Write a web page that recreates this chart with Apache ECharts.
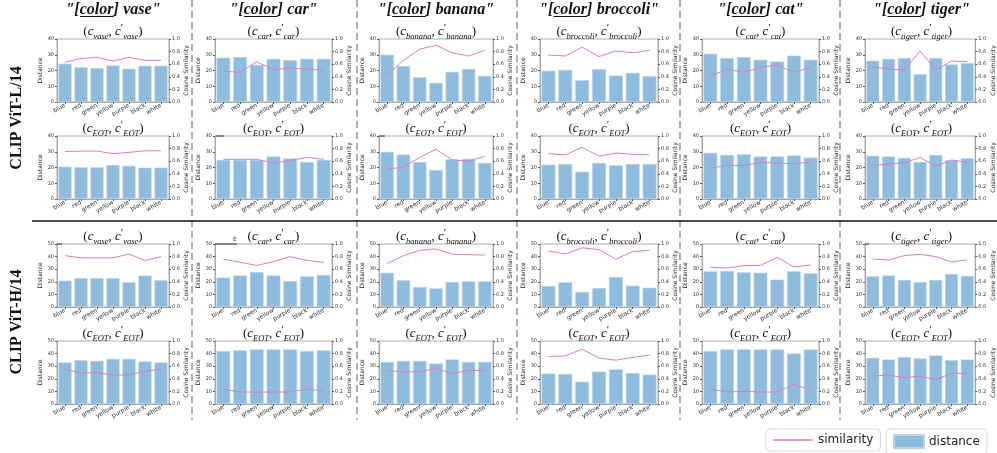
<!DOCTYPE html>
<html>
<head>
<meta charset="utf-8">
<script src="https://cdn.jsdelivr.net/npm/echarts@6/dist/echarts.min.js"></script>
<style>
  html, body { margin: 0; padding: 0; background: #fff; }
  #chart { width: 997px; height: 453px; }
</style>
</head>
<body>
<div id="chart"></div>
<script>
// categories
const colorNames = ['blue', 'red', 'green', 'yellow', 'purple', 'black', 'white']
const objects = ['vase', 'car', 'banana', 'broccoli', 'cat', 'tiger']
const modelNames = ['CLIP ViT-L/14', 'CLIP ViT-H/14']

// CLIP ViT-L/14, object token (c_obj, c'_obj) -- one row per object
const distL_obj = [
  [24.3, 22.1, 21.5, 23.2, 21.1, 23.0, 23.0],
  [28.1, 28.5, 23.6, 27.4, 26.6, 27.4, 27.4],
  [30.0, 22.8, 15.7, 12.1, 19.1, 20.9, 16.6],
  [19.8, 20.4, 13.8, 20.9, 16.8, 18.5, 16.4],
  [30.6, 27.9, 28.5, 26.8, 25.7, 29.4, 26.8],
  [26.2, 27.4, 27.9, 17.7, 27.9, 23.8, 24.7]
]
const simL_obj = [
  [0.63, 0.69, 0.71, 0.65, 0.71, 0.66, 0.66],
  [0.49, 0.47, 0.64, 0.51, 0.54, 0.52, 0.505],
  [0.43, 0.66, 0.84, 0.90, 0.78, 0.73, 0.82],
  [0.745, 0.73, 0.87, 0.72, 0.81, 0.78, 0.82],
  [0.41, 0.52, 0.47, 0.55, 0.585, 0.47, 0.55],
  [0.56, 0.52, 0.51, 0.81, 0.51, 0.65, 0.64]
]
// CLIP ViT-L/14, EOT token
const distL_eot = [
  [20.5, 20.1, 20.1, 21.6, 21.0, 19.9, 19.9],
  [24.8, 24.8, 24.8, 27.0, 25.7, 23.5, 24.8],
  [29.9, 28.2, 23.5, 18.4, 25.2, 25.5, 22.9],
  [21.8, 22.2, 17.3, 22.9, 21.4, 22.2, 22.2],
  [29.3, 28.0, 28.4, 27.0, 27.0, 27.6, 26.3],
  [27.4, 27.0, 26.1, 23.5, 28.0, 24.6, 25.9]
]
const simL_eot = [
  [0.754, 0.76, 0.76, 0.72, 0.74, 0.765, 0.765],
  [0.63, 0.63, 0.63, 0.57, 0.61, 0.66, 0.63],
  [0.47, 0.51, 0.66, 0.79, 0.62, 0.60, 0.68],
  [0.72, 0.70, 0.82, 0.68, 0.73, 0.71, 0.70],
  [0.49, 0.535, 0.53, 0.58, 0.57, 0.56, 0.59],
  [0.535, 0.556, 0.57, 0.66, 0.52, 0.62, 0.58]
]
// CLIP ViT-H/14, object token
const distH_obj = [
  [20.9, 22.8, 22.8, 22.8, 19.6, 24.9, 21.2],
  [23.3, 25.1, 27.8, 25.1, 20.6, 24.3, 25.4],
  [27.2, 21.2, 15.9, 14.8, 19.8, 20.4, 20.4],
  [16.7, 19.6, 11.9, 15.1, 23.8, 16.9, 15.3],
  [28.3, 28.6, 27.5, 27.2, 21.7, 28.3, 26.7],
  [24.3, 25.1, 21.4, 19.8, 21.4, 26.2, 24.6]
]
const simH_obj = [
  [0.815, 0.78, 0.78, 0.78, 0.84, 0.74, 0.80],
  [0.76, 0.71, 0.66, 0.72, 0.80, 0.74, 0.71],
  [0.69, 0.815, 0.90, 0.92, 0.84, 0.83, 0.825],
  [0.89, 0.84, 0.94, 0.91, 0.76, 0.88, 0.90],
  [0.63, 0.62, 0.656, 0.66, 0.79, 0.635, 0.667],
  [0.76, 0.746, 0.815, 0.836, 0.80, 0.714, 0.75]
]
// CLIP ViT-H/14, EOT token
const distH_eot = [
  [32.9, 34.8, 34.2, 35.8, 35.8, 33.7, 32.9],
  [42.0, 42.5, 43.3, 43.3, 43.3, 42.0, 42.5],
  [33.4, 34.2, 34.2, 32.1, 35.3, 33.4, 33.4],
  [24.1, 23.8, 17.6, 25.7, 27.5, 24.6, 23.3],
  [42.0, 43.3, 43.3, 43.3, 43.3, 40.1, 43.3],
  [36.6, 35.3, 37.2, 36.1, 38.5, 34.8, 35.3]
]
const simH_eot = [
  [0.556, 0.49, 0.50, 0.46, 0.46, 0.52, 0.556],
  [0.235, 0.19, 0.19, 0.19, 0.19, 0.235, 0.21],
  [0.53, 0.51, 0.51, 0.57, 0.48, 0.535, 0.53],
  [0.754, 0.765, 0.87, 0.73, 0.695, 0.74, 0.775],
  [0.235, 0.19, 0.20, 0.19, 0.19, 0.31, 0.22],
  [0.444, 0.46, 0.417, 0.444, 0.385, 0.49, 0.48]
]

// panel rows: model, token, distance axis max
const panelRows = [
  { dist: distL_obj, sim: simL_obj, max: 40, eot: false },
  { dist: distL_eot, sim: simL_eot, max: 40, eot: true },
  { dist: distH_obj, sim: simH_obj, max: 50, eot: false },
  { dist: distH_eot, sim: simH_eot, max: 50, eot: true }
]

// layout (px)
const colLeft = [57, 215, 379, 540, 702, 865]
const colWidth = [112, 117, 114, 118, 117, 113]
const rowTop = [39, 136, 244, 341]
const plotH = 63
const titleY = [32, 129, 237, 334]
const sepX = [192, 357, 517, 680, 840]

const barColor = '#8fbbdc'
const lineColor = '#da7ec1'
const spine = '#9a9a9a'
const serif = 'Liberation Serif'

const grids = []
const xAxes = []
const yAxes = []
const series = []
const titles = []
const graphics = []

const titleRich = {
  i: { fontFamily: serif, fontStyle: 'italic', fontSize: 13, lineHeight: 18, color: '#111' },
  s: { fontFamily: serif, fontStyle: 'italic', fontSize: 8.5, lineHeight: 18, verticalAlign: 'bottom', color: '#111' },
  p: { fontFamily: serif, fontSize: 11, lineHeight: 18, verticalAlign: 'top', color: '#111' },
  n: { fontFamily: serif, fontSize: 13, lineHeight: 18, color: '#111' }
}

panelRows.forEach((row, r) => {
  objects.forEach((obj, c) => {
    const k = grids.length
    grids.push({
      left: colLeft[c], top: rowTop[r], width: colWidth[c], height: plotH,
      show: true, borderColor: spine, borderWidth: 0.8, backgroundColor: '#fff'
    })
    xAxes.push({
      type: 'category', gridIndex: k, data: colorNames,
      axisLine: { lineStyle: { color: spine, width: 0.8 } },
      axisTick: { show: true, alignWithLabel: true, length: 2, lineStyle: { color: '#555' } },
      axisLabel: { interval: 0, rotate: 30, fontSize: 6, color: '#333', margin: 3, fontFamily: 'DejaVu Sans' }
    })
    yAxes.push({
      type: 'value', gridIndex: k, min: 0, max: row.max, interval: 10,
      splitLine: { show: false },
      axisLine: { show: true, lineStyle: { color: spine, width: 0.8 } },
      axisTick: { show: true, length: 2, lineStyle: { color: '#555' } },
      axisLabel: { fontSize: 5, color: '#333', margin: 3, fontFamily: 'DejaVu Sans' },
      name: 'Distance', nameLocation: 'middle', nameRotate: 90, nameGap: 13,
      nameTextStyle: { fontSize: 6, color: '#222', fontFamily: 'DejaVu Sans' }
    })
    yAxes.push({
      type: 'value', gridIndex: k, position: 'right', min: 0, max: 1, interval: 0.2,
      splitLine: { show: false },
      axisLine: { show: true, lineStyle: { color: spine, width: 0.8 } },
      axisTick: { show: true, length: 2, lineStyle: { color: '#555' } },
      axisLabel: { fontSize: 5, color: '#333', margin: 3, fontFamily: 'DejaVu Sans', formatter: v => v.toFixed(1) },
      name: 'Cosine Similarity', nameLocation: 'middle', nameRotate: 90, nameGap: 13,
      nameTextStyle: { fontSize: 6, color: '#222', fontFamily: 'DejaVu Sans' }
    })
    series.push({
      name: 'distance', type: 'bar', xAxisIndex: k, yAxisIndex: 2 * k,
      data: row.dist[c], barCategoryGap: '18%',
      itemStyle: { color: barColor, borderColor: '#b9d4ea', borderWidth: 0.6 }
    })
    series.push({
      name: 'similarity', type: 'line', xAxisIndex: k, yAxisIndex: 2 * k + 1,
      data: row.sim[c], symbol: 'none', z: 5,
      lineStyle: { color: lineColor, width: 1 }, itemStyle: { color: lineColor }
    })
    const sub = row.eot ? 'EOT' : obj
    titles.push({
      text: '{n|(}{i|c}{s|' + sub + '}{n|, }{i|c}{p|′}{s|' + sub + '}{n|)}',
      left: colLeft[c] + colWidth[c] / 2, top: titleY[r] - 9, textAlign: 'center', padding: 0,
      textStyle: { fontSize: 13, fontWeight: 'normal', lineHeight: 18, rich: titleRich }
    })
  })
})

// column headers "[color] obj"
const measureCtx = document.createElement('canvas').getContext('2d')
function textW(txt, font) { measureCtx.font = font; return measureCtx.measureText(txt).width }
const hSize = 16
const fItalic = 'italic ' + hSize + 'px "' + serif + '"'
const fBold = 'italic bold ' + hSize + 'px "' + serif + '"'
objects.forEach((obj, c) => {
  const cx = colLeft[c] + colWidth[c] / 2
  titles.push({
    text: '{b|"}{n|[}{n|color}{n|]} {b|' + obj + '"}',
    left: cx, top: 1, textAlign: 'center', padding: 0,
    textStyle: {
      fontSize: hSize, lineHeight: 18,
      rich: {
        b: { fontFamily: serif, fontStyle: 'italic', fontWeight: 'bold', fontSize: hSize, lineHeight: 18, color: '#111' },
        n: { fontFamily: serif, fontStyle: 'italic', fontSize: hSize, lineHeight: 18, color: '#111' }
      }
    }
  })
  const w0 = textW('"', fBold), w1 = textW('[', fItalic), w2 = textW('color', fItalic)
  const total = w0 + w1 + w2 + textW(']', fItalic) + textW(' ', fBold) + textW(obj + '"', fBold)
  const x0 = cx - total / 2 + w0 + w1
  graphics.push({
    type: 'line', shape: { x1: x0, y1: 16.5, x2: x0 + w2, y2: 16.5 },
    style: { stroke: '#111', lineWidth: 1.2 }, silent: true
  })
})

// vertical dashed separators
sepX.forEach(x => {
  graphics.push({
    type: 'line', shape: { x1: x, y1: 0, x2: x, y2: 420 },
    style: { stroke: '#b0b0b0', lineWidth: 2, lineDash: [7, 4] }, silent: true
  })
})
// horizontal separator between the models
graphics.push({
  type: 'line', shape: { x1: 32, y1: 221, x2: 997, y2: 221 },
  style: { stroke: '#111', lineWidth: 1.5 }, silent: true, z: 10
})
// model labels
modelNames.forEach((m, i) => {
  graphics.push({
    type: 'text', x: 17, y: i === 0 ? 118 : 322, rotation: Math.PI / 2,
    style: {
      text: m, font: 'bold 16px "' + serif + '"', fill: '#111',
      align: 'center', verticalAlign: 'middle', textAlign: 'center', textVerticalAlign: 'middle'
    }
  })
})
// small dark marks on some top spines, as in the source figure
const spineMarks = [[216, 224, 136], [379, 385, 136], [57, 62, 244], [215, 237, 244], [865, 869, 244]]
spineMarks.forEach(m => {
  graphics.push({
    type: 'line', shape: { x1: m[0], y1: m[2], x2: m[1], y2: m[2] },
    style: { stroke: '#333', lineWidth: 1 }, silent: true, z: 20
  })
})
graphics.push({
  type: 'text', x: 235, y: 239,
  style: { text: 'E', font: '6px "DejaVu Sans"', fill: '#333', align: 'center', verticalAlign: 'middle', textAlign: 'center', textVerticalAlign: 'middle' }
})

const legendCommon = {
  orient: 'horizontal', top: 429, padding: [5, 7, 5, 7], itemGap: 5,
  borderColor: '#d6d6d6', borderWidth: 1, borderRadius: 4, backgroundColor: '#fff',
  icon: 'rect', selectedMode: false,
  textStyle: { fontSize: 12, color: '#222', fontFamily: 'DejaVu Sans' }
}

const chart = echarts.init(document.getElementById('chart'), null, { renderer: 'canvas' })
chart.setOption({
  animation: false,
  backgroundColor: '#fff',
  title: titles,
  grid: grids,
  xAxis: xAxes,
  yAxis: yAxes,
  series: series,
  legend: [
    Object.assign({}, legendCommon, { data: ['similarity'], left: 766, itemWidth: 40, itemHeight: 1.5, itemStyle: { color: lineColor } }),
    Object.assign({}, legendCommon, { data: ['distance'], left: 886, itemWidth: 30, itemHeight: 13, itemStyle: { color: barColor } })
  ],
  graphic: graphics
})
</script>
</body>
</html>
